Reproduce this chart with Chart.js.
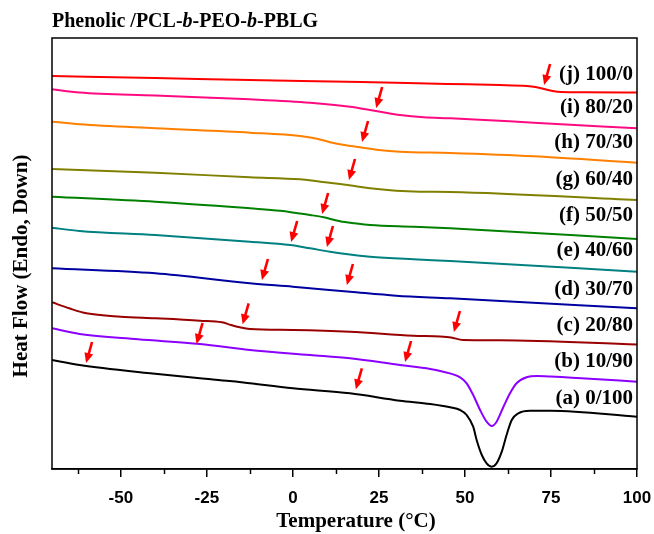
<!DOCTYPE html>
<html>
<head>
<meta charset="utf-8">
<script src="https://cdn.jsdelivr.net/npm/chart.js@4.4.1/dist/chart.umd.min.js"></script>
<style>
  html, body { margin: 0; padding: 0; background: #fff; }
  #wrap { width: 654px; height: 534px; }
</style>
</head>
<body>
<div id="wrap"><canvas id="dsc" width="654" height="534"></canvas></div>
<script>
// temperature (°C) / heat flow (arb. units, endo down)
const tJ = [-70, -40, -12.5, 20, 45, 60, 68, 70.5, 73, 75.5, 78, 85, 100];
const hfJ = [393, 391, 389, 387, 385, 384, 383, 382, 380, 378, 377, 376.7, 376.5];

const tI = [-70, -62, -40, -12.5, 5, 16.6, 22.4, 27, 31.1, 38, 45.7, 70, 100];
const hfI = [379.7, 376.5, 373.5, 369.7, 366.3, 362.3, 359, 356.3, 354, 351.7, 350.7, 346.3, 340.7];

const tH = [-70, -62, -40, -12.5, 2.1, 7, 10.8, 15, 19.5, 25, 31.1, 45.7, 70, 100];
const hfH = [347.3, 344.7, 340.7, 336.3, 333, 330.3, 326.8, 323.9, 321.7, 319, 317.3, 316, 312.7, 306.3];

const tG = [-70, -40, -12.5, 2.1, 8, 13.7, 18, 22.4, 30, 36.9, 45.7, 100];
const hfG = [300, 296.3, 291.7, 289.7, 287.3, 285, 283, 280.7, 278.3, 277.3, 277, 269];

const tF = [-70, -40, -12.5, -3.7, 5, 9, 13.7, 18, 22.4, 35, 45.7, 100];
const hfF = [272.3, 267.3, 260.7, 258.3, 254, 251.7, 247.8, 245.7, 244, 242.3, 240.7, 230];

const tE = [-70, -62, -40, -12.5, -0.8, 5, 10.8, 16, 22.4, 35, 45.7, 100];
const hfE = [241.3, 238, 234, 227.3, 224, 220.7, 217.3, 214.7, 212.3, 209.7, 208, 197.3];

const tD = [-70, -40, -12.5, 0, 16.6, 30, 45.7, 100];
const hfD = [200.7, 195.7, 185.7, 182.3, 177.3, 173.3, 170.7, 160.7];

const tC = [-70, -65, -60, -50, -40, -27, -20.6, -18, -15.4, -12.5, 0, 16.6, 35, 42.8, 46, 49.4, 60, 100];
const hfC = [166.7, 160.7, 155.7, 152.3, 150.7, 148.3, 146.7, 144, 141.7, 140, 139, 137.3, 133.3, 132.5, 131.5, 129, 128.7, 124.5];

const tB = [-70, -62, -45, -27, -12.5, 5, 16.6, 31.1, 39.9, 42.8, 48.6, 50.5, 52.4, 54.4, 56.3, 57.8, 59.2, 61.2, 63.1, 65, 67.9, 70.9, 75, 85, 100];
const hfB = [140.7, 135, 129.7, 125, 119, 114, 110.7, 104, 100, 98, 91.7, 85.7, 74, 59, 47.3, 43, 47.3, 62.3, 75.7, 85.7, 91.7, 93, 92.5, 90.5, 87.3];

const tA = [-70, -62, -41.5, -27, -18.3, -12.5, 0, 16.6, 31.1, 39.9, 45.7, 48.6, 50.5, 52.4, 53.4, 54.9, 56.3, 57.8, 59.2, 60.7, 62.1, 63.6, 65.5, 68.9, 75, 100];
const hfA = [109, 104, 95.7, 90.7, 88, 85.7, 80.7, 75.7, 68.3, 65, 61.7, 59, 54, 42.3, 29, 14, 5.7, 2.3, 5.7, 17.3, 34, 49, 55.7, 58.3, 58.3, 52.3];

// curve labels on the right
const labelText = ['(j) 100/0', '(i) 80/20', '(h) 70/30', '(g) 60/40', '(f) 50/50',
                   '(e) 40/60', '(d) 30/70', '(c) 20/80', '(b) 10/90', '(a) 0/100'];
const labelHF = [394, 361, 326, 289, 253, 218, 179, 143, 107, 70];

// Tg arrows (tip positions)
const arrowT = [73, 24.2, 20.1, 16.3, 8.5, -0.5, 9.9, -9, 15.7, -14.6, 46.8, -28, 32.6, -60.1, 18.3];
const arrowHF = [384, 361, 327, 289, 255, 227, 222, 189, 184, 144.7, 137, 125, 107, 106, 79.7];

const xTicks = [-50, -25, 0, 25, 50, 75, 100];
const xMinorTicks = [-62.5, -37.5, -12.5, 12.5, 37.5, 62.5, 87.5];

const series = [
  [tJ, hfJ, '#ff0000'],
  [tI, hfI, '#ff0a80'],
  [tH, hfH, '#ff8000'],
  [tG, hfG, '#808000'],
  [tF, hfF, '#008000'],
  [tE, hfE, '#008080'],
  [tD, hfD, '#0000a0'],
  [tC, hfC, '#990000'],
  [tB, hfB, '#8c00ff'],
  [tA, hfA, '#000000']
];

const SERIF = '"Liberation Serif", "Times New Roman", serif';
const SANS = '"Liberation Sans", Arial, sans-serif';

const decorations = {
  id: 'decorations',
  afterDraw(chart) {
    const { ctx, chartArea: a, scales: { x, y } } = chart;
    ctx.save();

    // frame
    ctx.strokeStyle = '#000';
    ctx.lineWidth = 1.5;
    ctx.strokeRect(a.left, a.top, a.right - a.left, a.bottom - a.top);

    // minor ticks
    xMinorTicks.forEach(v => {
      const px = Math.round(x.getPixelForValue(v)) + 0.5;
      ctx.beginPath();
      ctx.moveTo(px, a.bottom);
      ctx.lineTo(px, a.bottom + 5);
      ctx.stroke();
    });

    // arrows
    ctx.strokeStyle = '#ff0000';
    ctx.fillStyle = '#ff0000';
    arrowT.forEach((t, i) => {
      const tx = x.getPixelForValue(t);
      const ty = y.getPixelForValue(arrowHF[i]);
      const dx = 6, dy = -21;
      const len = Math.hypot(dx, dy);
      const ux = dx / len, uy = dy / len;
      ctx.lineWidth = 2.6;
      ctx.beginPath();
      ctx.moveTo(tx + ux * 7, ty + uy * 7);
      ctx.lineTo(tx + dx, ty + dy);
      ctx.stroke();
      const bx = tx + ux * 10, by = ty + uy * 10;
      ctx.beginPath();
      ctx.moveTo(tx, ty);
      ctx.lineTo(bx - uy * 4.5, by + ux * 4.5);
      ctx.lineTo(bx + uy * 4.5, by - ux * 4.5);
      ctx.closePath();
      ctx.fill();
    });

    // curve labels
    ctx.fillStyle = '#000';
    ctx.font = 'bold 21px ' + SERIF;
    ctx.textAlign = 'right';
    ctx.textBaseline = 'middle';
    labelText.forEach((s, i) => {
      ctx.fillText(s, a.right - 4, y.getPixelForValue(labelHF[i]));
    });

    // x title
    ctx.textAlign = 'center';
    ctx.font = 'bold 21px ' + SERIF;
    ctx.fillText('Temperature (°C)', 356, 522);

    // y title
    ctx.save();
    ctx.translate(22, 266);
    ctx.rotate(-Math.PI / 2);
    ctx.fillText('Heat Flow (Endo, Down)', 0, 0);
    ctx.restore();

    // chart title with italic b
    const parts = [['Phenolic /PCL-', false], ['b', true], ['-PEO-', false], ['b', true], ['-PBLG', false]];
    let px = 52;
    ctx.textAlign = 'left';
    ctx.textBaseline = 'alphabetic';
    parts.forEach(([s, it]) => {
      ctx.font = (it ? 'italic ' : '') + 'bold 20px ' + SERIF;
      ctx.fillText(s, px, 27);
      px += ctx.measureText(s).width;
    });

    ctx.restore();
  }
};

new Chart(document.getElementById('dsc').getContext('2d'), {
  type: 'line',
  data: {
    datasets: series.map(([t, hf, color]) => ({
      data: t.map((v, i) => ({ x: v, y: hf[i] })),
      borderColor: color,
      borderWidth: 2,
      pointRadius: 0,
      cubicInterpolationMode: 'monotone',
      fill: false
    }))
  },
  options: {
    responsive: false,
    animation: false,
    devicePixelRatio: 1,
    layout: { padding: { top: 38, left: 52, right: 17, bottom: 0 } },
    plugins: { legend: { display: false }, tooltip: { enabled: false }, title: { display: false } },
    scales: {
      x: {
        type: 'linear',
        min: -70,
        max: 100,
        afterBuildTicks: s => { s.ticks = xTicks.map(v => ({ value: v })); },
        afterFit: s => { s.height = 65; s.paddingLeft = 0; s.paddingRight = 0; },
        grid: { display: true, drawOnChartArea: false, tickLength: 8, color: '#000', lineWidth: 1.5 },
        border: { display: true, color: '#000', width: 1.5 },
        ticks: { color: '#000', padding: 11, maxRotation: 0, font: { family: SANS, size: 17, weight: 'bold' } }
      },
      y: {
        display: false,
        min: 0,
        max: 431
      }
    }
  },
  plugins: [decorations]
});
</script>
</body>
</html>
